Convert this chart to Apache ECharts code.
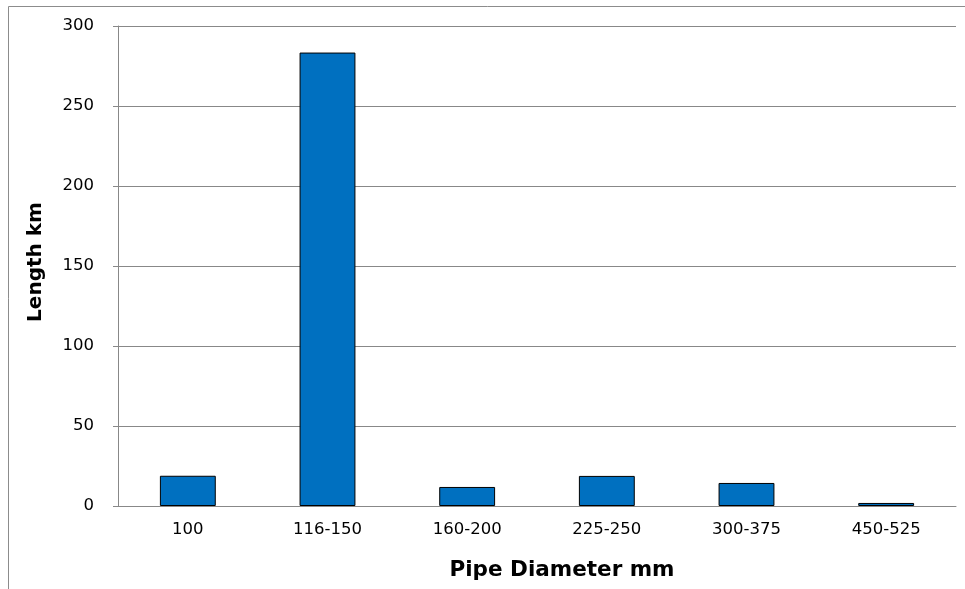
<!DOCTYPE html>
<html>
<head>
<meta charset="utf-8">
<script src="https://cdn.jsdelivr.net/npm/echarts@6/dist/echarts.min.js"></script>
<style>
  html, body { margin: 0; padding: 0; background: #fff; }
  #chart { width: 965px; height: 589px; }
</style>
</head>
<body>
<div id="chart"></div>
<script>
// Pipe length by diameter class
const categories = ['100', '116-150', '160-200', '225-250', '300-375', '450-525'];
const lengthKm = [18.9, 283.4, 11.9, 18.8, 14.4, 1.9];
const yTicks = { min: 0, max: 300, interval: 50 };

const chart = echarts.init(document.getElementById('chart'), null, { renderer: 'canvas' });
const font = 'Verdana, "DejaVu Sans", sans-serif';

chart.setOption({
  animation: false,
  backgroundColor: '#ffffff',
  graphic: [{
    type: 'rect',
    shape: { x: 8.5, y: 6.5, width: 980, height: 600 },
    style: { fill: 'none', stroke: '#8c8c8c', lineWidth: 1 },
    silent: true
  }],
  grid: { left: 118, right: 9, top: 26, bottom: 83, containLabel: false },
  xAxis: {
    type: 'category',
    data: categories,
    name: 'Pipe Diameter mm',
    nameLocation: 'middle',
    nameGap: 53,
    nameTextStyle: { fontFamily: font, fontSize: 21.5, fontWeight: 'bold', color: '#000', padding: [0, 0, 0, 50] },
    axisLine: { lineStyle: { color: '#888888', width: 1 } },
    axisTick: { show: false },
    axisLabel: { fontFamily: font, fontSize: 16.5, color: '#000', margin: 15 }
  },
  yAxis: {
    type: 'value',
    min: yTicks.min,
    max: yTicks.max,
    interval: yTicks.interval,
    name: 'Length km',
    nameLocation: 'middle',
    nameGap: 72,
    nameTextStyle: { fontFamily: font, fontSize: 20, fontWeight: 'bold', color: '#000', padding: [0, 0, 0, 8] },
    axisLine: { show: true, lineStyle: { color: '#888888', width: 1 } },
    axisTick: { show: true, length: 5, inside: false, lineStyle: { color: '#888888' } },
    axisLabel: { fontFamily: font, fontSize: 16.5, color: '#000', margin: 24 },
    splitLine: { show: true, lineStyle: { color: '#888888', width: 1 } }
  },
  series: [{
    type: 'bar',
    data: lengthKm,
    barWidth: '40%',
    itemStyle: { color: '#0070c0', borderColor: '#000000', borderWidth: 1 }
  }]
});
</script>
</body>
</html>
